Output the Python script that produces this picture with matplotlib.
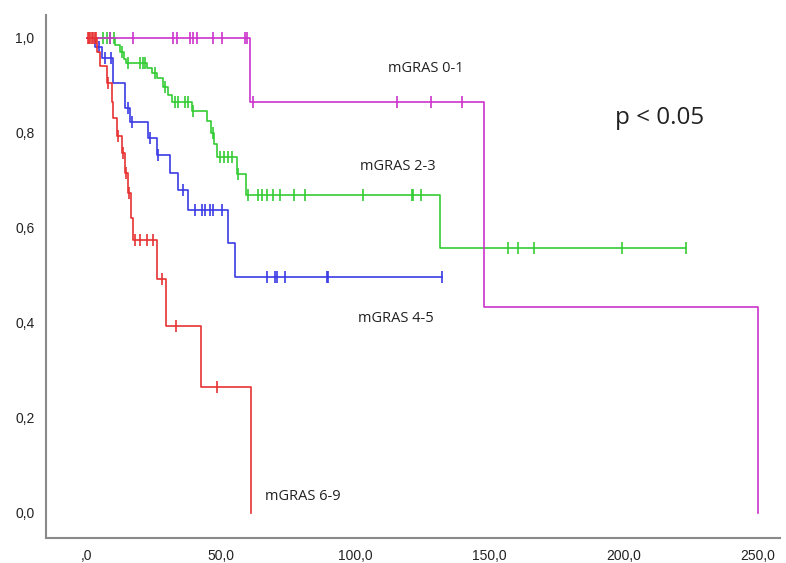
import numpy as np
import matplotlib
matplotlib.use("Agg")
import matplotlib.pyplot as plt

# Kaplan-Meier step curves (time, survival after the step)
red_times = [0, 3.7, 5.0, 7.5, 9.3, 9.7, 11.2, 13.0, 14.2, 15.3, 16.4, 17.1, 26.1, 29.4, 42.5, 61.1]
red_surv = [1.0, 0.97, 0.94, 0.905, 0.865, 0.831, 0.794, 0.758, 0.716, 0.674, 0.62, 0.575, 0.493, 0.394, 0.264, 0.0]
red_censored = [0.3, 0.8, 1.3, 1.8, 2.3, 2.8, 3.3, 7.8, 11.5, 13.3, 14.5, 15.6,
                17.9, 19.7, 22.4, 24.6, 28.0, 33.2, 48.4]

blue_times = [0, 3.0, 5.5, 9.7, 14.2, 16.0, 22.7, 26.1, 30.9, 33.9, 37.6, 52.5, 55.1]
blue_surv = [1.0, 0.981, 0.958, 0.905, 0.853, 0.823, 0.789, 0.754, 0.716, 0.68, 0.638, 0.568, 0.497]
blue_end = 132.3
blue_censored = [4.5, 6.7, 9.0, 15.3, 16.8, 23.5, 26.5, 35.8, 40.2, 42.8, 44.0, 45.8, 46.9,
                 50.3, 67.1, 70.1, 70.8, 73.8, 89.4, 89.8, 132.3]

green_times = [0, 10.5, 12.3, 13.8, 14.5, 22.4, 24.2, 26.1, 28.3, 30.2, 31.7, 39.1, 44.7,
               46.2, 47.3, 48.4, 55.9, 59.2, 131.5]
green_surv = [1.0, 0.985, 0.97, 0.955, 0.947, 0.937, 0.926, 0.916, 0.897, 0.88, 0.865, 0.846,
              0.825, 0.80, 0.776, 0.75, 0.714, 0.668, 0.558]
green_end = 223.2
green_censored = [6.0, 7.5, 8.6, 10.2, 13.0, 15.3, 19.7, 20.9, 21.8, 25.5, 29.0, 32.8, 33.9,
                  36.5, 37.6, 39.5, 46.9, 49.6, 51.0, 52.5, 54.0, 56.3, 60.0, 63.7, 65.2,
                  67.1, 69.3, 71.9, 77.1, 81.2, 102.8, 121.1, 121.5, 124.4, 156.9, 160.6,
                  166.5, 199.3, 223.2]

magenta_times = [0, 60.7, 147.9, 250.0]
magenta_surv = [1.0, 0.865, 0.434, 0.0]
magenta_censored = [8.6, 17.1, 32.0, 33.5, 38.4, 39.5, 41.0, 47.0, 50.3, 58.9, 59.6,
                    61.8, 115.5, 128.2, 139.7]

x_ticks = [0, 50, 100, 150, 200, 250]
x_labels = [",0", "50,0", "100,0", "150,0", "200,0", "250,0"]
y_ticks = [0.0, 0.2, 0.4, 0.6, 0.8, 1.0]
y_labels = ["0,0", "0,2", "0,4", "0,6", "0,8", "1,0"]


def km_curve(ax, times, surv, censored, color, end=None):
    t = list(times)
    s = list(surv)
    if end is not None:
        t.append(end)
        s.append(s[-1])
    ax.step(t, s, where="post", color=color, lw=1.2)
    idx = np.searchsorted(times, censored, side="right") - 1
    cy = np.array(surv)[idx]
    ax.plot(censored, cy, ls="none", marker="|", ms=8, mew=1.2, color=color)


fig = plt.figure(figsize=(7.86, 5.63), dpi=100)
ax = fig.add_axes([0.0581, 0.0444, 0.934, 0.929])

km_curve(ax, green_times, green_surv, green_censored, "#33cc33", green_end)
km_curve(ax, blue_times, blue_surv, blue_censored, "#3b3be6", blue_end)
km_curve(ax, magenta_times, magenta_surv, magenta_censored, "#cc33cc")
km_curve(ax, red_times, red_surv, red_censored, "#e83232")

ax.set_xlim(-15.4, 258.2)
ax.set_ylim(-0.053, 1.048)
ax.set_xticks(x_ticks)
ax.set_xticklabels(x_labels)
ax.set_yticks(y_ticks)
ax.set_yticklabels(y_labels)
ax.tick_params(length=0, labelsize=10, pad=8, colors="#222222")
for lab in ax.get_xticklabels() + ax.get_yticklabels():
    lab.set_family("Liberation Sans")

for side in ["top", "right"]:
    ax.spines[side].set_visible(False)
for side in ["left", "bottom"]:
    ax.spines[side].set_color("#8a8a8a")
    ax.spines[side].set_linewidth(1.5)

txt = dict(family="Open Sans", fontsize=10.5, color="#222222", va="center")
ax.text(112.1, 0.935, "mGRAS 0-1", **txt)
ax.text(101.7, 0.73, "mGRAS 2-3", **txt)
ax.text(101.0, 0.41, "mGRAS 4-5", **txt)
ax.text(66.3, 0.034, "mGRAS 6-9", **txt)
ax.text(196.7, 0.832, "p < 0.05", family="Open Sans", fontsize=17.5, color="#222222", va="center")

fig.savefig("out.png", dpi=100)
